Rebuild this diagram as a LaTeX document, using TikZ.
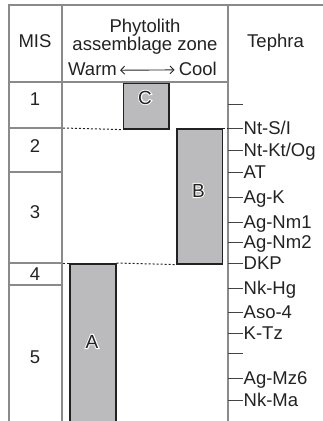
\documentclass[tikz,border=0pt]{standalone}
\usepackage{fontspec}
\setmainfont{Liberation Sans}
\usetikzlibrary{arrows.meta}
\definecolor{gridgray}{RGB}{138,138,138}
\definecolor{boxfill}{RGB}{187,187,190}
\definecolor{ink}{RGB}{34,34,34}
\newcommand{\haloed}[1]{\rlap{\special{pdf:literal direct 1 Tr 2 w 1 1 1 RG}#1\special{pdf:literal direct 0 Tr}}\textcolor{ink}{#1}}
\begin{document}
\begin{tikzpicture}[x=1pt,y=-1pt,
  grid/.style={draw=gridgray,line width=2pt},
  zonebox/.style={draw=ink,fill=boxfill,line width=1.6pt,inner sep=0pt,anchor=north west},
  dotline/.style={draw=ink,line width=1pt,dash pattern=on 2pt off 2pt},
  tickline/.style={draw=ink!85,line width=1pt},
  lbl/.style={font=\fontsize{18.5}{20}\selectfont,text=ink,inner sep=0pt,anchor=base},
  teph/.style={lbl,anchor=base west},
  zonelbl/.style={font=\fontsize{19}{20}\selectfont,inner sep=0pt,anchor=base},
  arr/.style={draw=ink,line width=0.9pt,{Straight Barb[length=4pt,width=8pt]}-{Straight Barb[length=4pt,width=8pt]}}]
\useasboundingbox (0,0) rectangle (323,421);

% zone boxes
\node[zonebox,minimum width=45.5pt,minimum height=46pt] (C) at (122.5,82) {};
\node[zonebox,minimum width=45.5pt,minimum height=135pt] (B) at (176,128) {};
\node[zonebox,minimum width=46pt,minimum height=161pt] (A) at (69,263) {};
\node[zonelbl] (Clbl) at (145,104) {\haloed{C}};
\node[zonelbl] (Blbl) at (198.5,197) {\haloed{B}};
\node[zonelbl] (Albl) at (92,348) {\haloed{A}};

% grid
\coordinate (tl) at (8.5,5);
\coordinate (tr) at (323,5);
\coordinate (bl) at (8.5,421);
\coordinate (m1t) at (62,5);
\coordinate (m1b) at (62,421);
\coordinate (axt) at (228,5);
\coordinate (axb) at (228,421);
\draw[grid] (bl) -- (tl) -- (tr);
\draw[grid] (m1t) -- (m1b);
\draw[grid] (axt) -- (axb);
\coordinate (hl) at (8.5,82);
\coordinate (hr) at (228,82);
\draw[grid] (hl) -- (hr);
\foreach \yy in {128,172,263,285}{
  \draw[grid] (8.5,\yy) -- (62,\yy);
}

% dotted boundaries
\coordinate (d1l) at (63,128);
\coordinate (d1r) at (228,128);
\coordinate (d2l) at (63,263);
\draw[dotline] (d1l) -- (C.south west);
\draw[dotline] (B.north east) -- (d1r);
\draw[dotline] (d2l) -- (A.north west);
\draw[dotline] (A.north east) -- (B.south west);

% header
\node[lbl] (mis) at (35,47) {MIS};
\node[lbl] (phy1) at (145,32) {Phytolith};
\node[lbl] (phy2) at (145,50) {assemblage zone};
\node[lbl] (teph) at (275.5,47) {Tephra};
\node[lbl,anchor=base west] (warm) at (68,75) {Warm};
\node[lbl,anchor=base east] (cool) at (217,75) {Cool};
\draw[arr] ([xshift=3pt,yshift=-1.5pt]warm.east) -- ([xshift=-4pt,yshift=-1.5pt]cool.west);

% MIS numbers
\node[lbl] (n1) at (35,105) {1};
\node[lbl] (n2) at (35,152) {2};
\node[lbl] (n3) at (35,218) {3};
\node[lbl] (n4) at (35,280) {4};
\node[lbl] (n5) at (35,363) {5};

% tephra ticks
\foreach \yy/\nm/\tx in {104/t0/{},128/t1/{Nt-S/I},150/t2/{Nt-Kt/Og},172/t3/{AT},197/t4/{Ag-K},222/t5/{Ag-Nm1},242/t6/{Ag-Nm2},263/t7/{DKP},288/t8/{Nk-Hg},312/t9/{Aso-4},333/t10/{K-Tz},353/t11/{},378/t12/{Ag-Mz6},400/t13/{Nk-Ma}}{
  \coordinate (\nm a) at (228,\yy);
  \coordinate (\nm b) at (243,\yy);
  \draw[tickline] (\nm a) -- (\nm b);
  \node[teph] (\nm l) at (243.5,\yy+6.5) {\tx};
}
\end{tikzpicture}
\end{document}
